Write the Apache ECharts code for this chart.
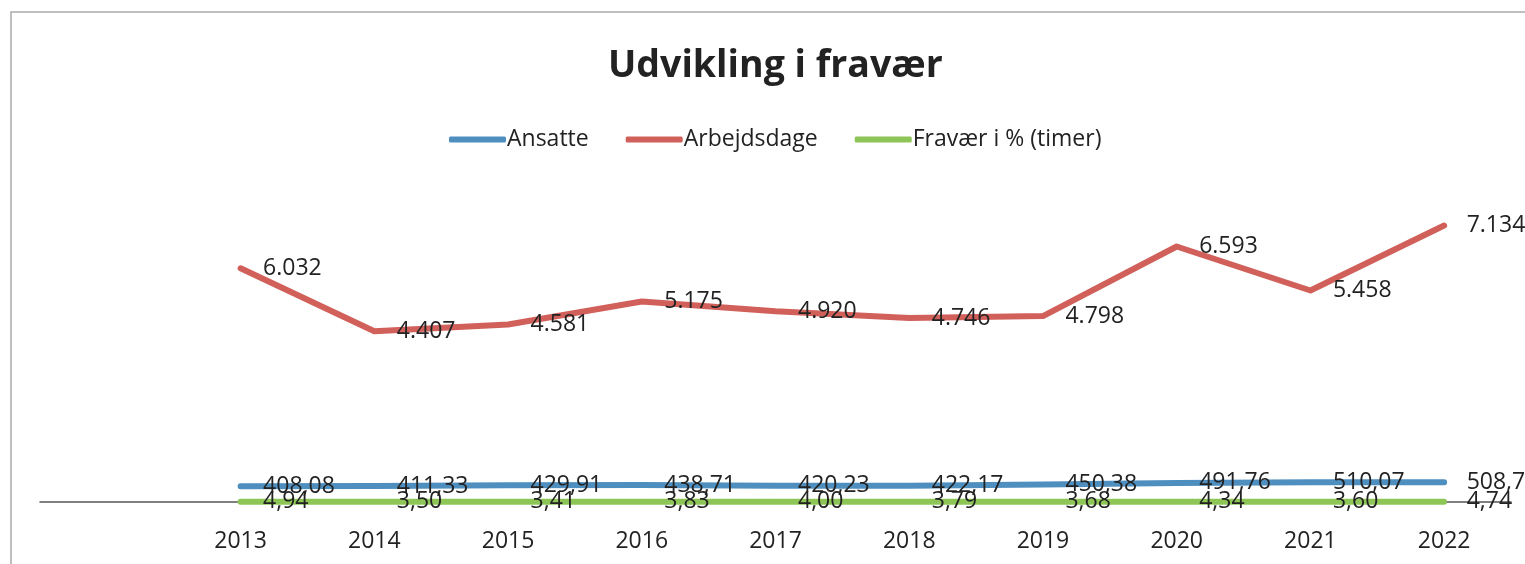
<!DOCTYPE html>
<html>
<head>
<meta charset="utf-8">
<title>Udvikling i fravær</title>
<script src="https://cdn.jsdelivr.net/npm/echarts@6/dist/echarts.min.js"></script>
<style>
  html, body { margin: 0; padding: 0; background: #fff; }
  #chart { width: 1525px; height: 564px; }
</style>
</head>
<body>
<div id="chart"></div>
<script>
// data
var years = ['2013', '2014', '2015', '2016', '2017', '2018', '2019', '2020', '2021', '2022'];
var ansatte = [408.08, 411.33, 429.91, 438.71, 420.23, 422.17, 450.38, 491.76, 510.07, 508.74];
var arbejdsdage = [6032, 4407, 4581, 5175, 4920, 4746, 4798, 6593, 5458, 7134];
var fravaer = [4.94, 3.50, 3.41, 3.83, 4.00, 3.79, 3.68, 4.34, 3.60, 4.74];

var FONT = '"Open Sans", "Noto Sans", sans-serif';
var TXT = '#222';

// the original axis has one empty slot before 2013
function padded(arr) {
    return [null].concat(arr);
}
function commaDec(p) {
    return p.value.toFixed(2).replace('.', ',');
}
function dotThousands(p) {
    return String(p.value).replace(/\B(?=(\d{3})+(?!\d))/g, '.');
}

function lineSeries(name, data, color, fmt) {
    return {
        name: name,
        type: 'line',
        data: padded(data),
        symbol: 'circle',
        symbolSize: 1,
        showSymbol: true,
        lineStyle: { color: color, width: 6, cap: 'round', join: 'round' },
        itemStyle: { color: color },
        label: {
            show: true,
            position: 'right',
            distance: 22,
            color: TXT,
            fontFamily: FONT,
            fontSize: 23,
            formatter: fmt
        }
    };
}

var chart = echarts.init(document.getElementById('chart'));
var option = {
    backgroundColor: '#fff',
    animation: false,
    title: {
        text: 'Udvikling i fravær',
        left: 603,
        top: 42,
        textStyle: { fontFamily: FONT, fontSize: 37.5, fontWeight: 'bold', color: TXT }
    },
    legend: {
        left: 444,
        top: 123,
        icon: 'roundRect',
        itemWidth: 57,
        itemHeight: 6,
        itemGap: 37,
        data: ['Ansatte', 'Arbejdsdage', 'Fravær i % (timer)'],
        textStyle: { fontFamily: FONT, fontSize: 23, color: TXT, padding: [0, 0, 0, -4] }
    },
    grid: { left: 40, right: 14, top: 192, bottom: 62 },
    xAxis: {
        type: 'category',
        boundaryGap: true,
        data: [''].concat(years),
        axisLine: { lineStyle: { color: '#555', width: 1.5 } },
        axisTick: { show: false },
        axisLabel: { color: TXT, fontFamily: FONT, fontSize: 23, margin: 28 }
    },
    yAxis: {
        type: 'value',
        min: 0,
        max: 8000,
        show: false
    },
    series: [
        lineSeries('Ansatte', ansatte, '#4F8FC0', commaDec),
        lineSeries('Arbejdsdage', arbejdsdage, '#D1605B', dotThousands),
        lineSeries('Fravær i % (timer)', fravaer, '#8DC656', commaDec)
    ],
    graphic: [{
        type: 'rect',
        shape: { x: 11, y: 12, width: 1600, height: 600 },
        style: { fill: 'none', stroke: '#aaa', lineWidth: 1.5 },
        silent: true
    }]
};
chart.setOption(option);

window.onresize = function() {
    chart.resize();
};
</script>
</body>
</html>
